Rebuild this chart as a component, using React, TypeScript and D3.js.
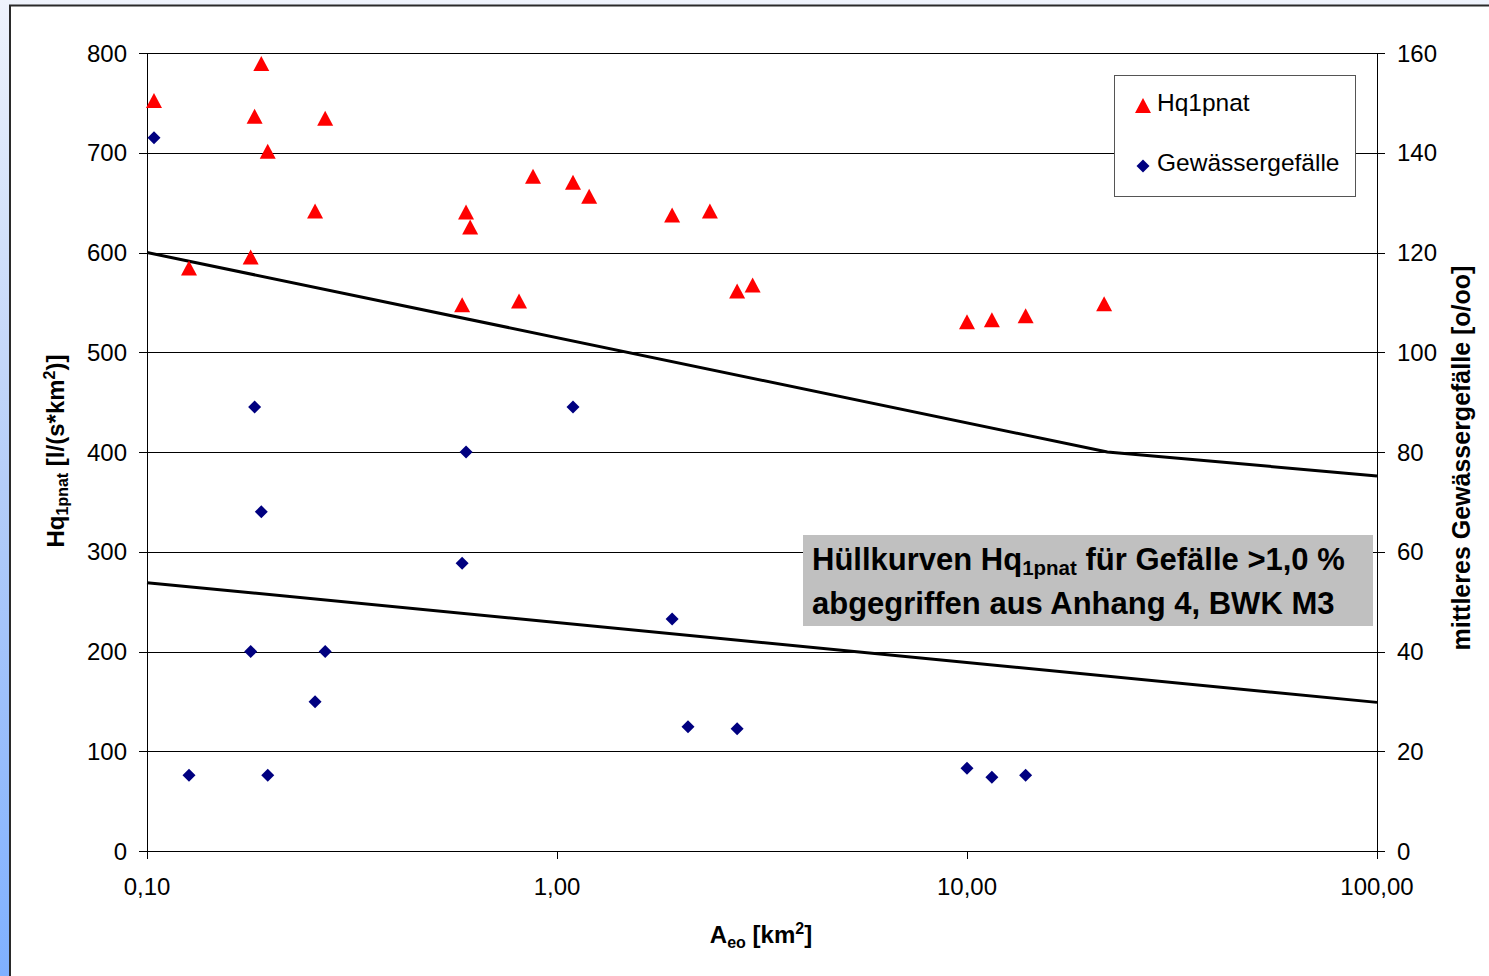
import React from 'react';
import * as d3 from 'd3';

// ---- data ----
const hqArea = [0.104, 0.19, 0.183, 0.272, 0.197, 0.257, 0.1266, 0.179, 0.6, 0.614, 0.587, 0.808, 0.874, 1.094, 1.198, 1.909, 2.36, 2.75, 3.0, 10.0, 11.5, 13.9, 21.6];
const hqValues = [752, 789, 736, 734, 701, 641, 584, 595, 640, 625, 547, 551, 676, 670, 656, 637, 641, 561, 567, 530, 532, 536, 548];
const slopeArea = [0.104, 0.183, 0.19, 0.6, 1.094, 0.587, 1.909, 0.179, 0.272, 0.257, 0.1266, 0.197, 2.087, 2.75, 10.0, 11.5, 13.9];
const slopeValues = [143, 89, 68, 80, 89, 57.7, 46.5, 40, 40, 29.9, 15.2, 15.2, 24.9, 24.5, 16.6, 14.8, 15.2];
const upperCurveArea = [0.1, 22, 100];
const upperCurveHq = [600, 400, 376];
const lowerCurveArea = [0.1, 100];
const lowerCurveHq = [269, 149];
const leftTicks = [0, 100, 200, 300, 400, 500, 600, 700, 800];
const rightTicks = [0, 20, 40, 60, 80, 100, 120, 140, 160];
const xTicks = [0.1, 1, 10, 100];
const xTickLabels = ['0,10', '1,00', '10,00', '100,00'];

const FONT = '"Liberation Sans", Arial, sans-serif';

export default function App() {
  const W = 1489, H = 976;
  const x = d3.scaleLog().domain([0.1, 100]).range([147, 1377]);
  const y = d3.scaleLinear().domain([0, 800]).range([851, 53]);
  const y2 = d3.scaleLinear().domain([0, 160]).range([851, 53]);
  const line = d3.line<[number, number]>().x(d => x(d[0])).y(d => y(d[1]));
  const upper = line(upperCurveArea.map((a, i) => [a, upperCurveHq[i]] as [number, number])) || '';
  const lower = line(lowerCurveArea.map((a, i) => [a, lowerCurveHq[i]] as [number, number])) || '';
  const tri = 'M0,-8L8,7L-8,7Z';
  const dia = 'M0,-6.5L6.5,0L0,6.5L-6.5,0Z';
  const L = x.range()[0], R = x.range()[1];
  const B = y(0);

  return (
    <div style={{ position: 'absolute', left: 0, top: 0 }}>
      <svg width={W} height={H} style={{ display: 'block' }} fontFamily={FONT}>
        <defs>
          <linearGradient id="bg" x1="0" y1="0" x2="0" y2="1">
            <stop offset="0" stopColor="#eff3fc" />
            <stop offset="0.5" stopColor="#b4cdf8" />
            <stop offset="1" stopColor="#7fb0ff" />
          </linearGradient>
        </defs>
        <rect x={0} y={0} width={W} height={H} fill="url(#bg)" />
        <rect x={10} y={5.5} width={W + 20} height={H + 20} fill="#fff" stroke="#2a2a2a" strokeWidth={2} />

        {/* gridlines */}
        <g shapeRendering="crispEdges">
          {leftTicks.filter(t => t > 0).map(t => (
            <line key={t} x1={L} x2={R} y1={Math.round(y(t)) + 0.5} y2={Math.round(y(t)) + 0.5} stroke="#000" strokeWidth={1} />
          ))}
        </g>

        {/* axes */}
        <g shapeRendering="crispEdges" stroke="#000" strokeWidth={1}>
          <line x1={L + 0.5} x2={L + 0.5} y1={y(800)} y2={B + 8} />
          <line x1={R + 0.5} x2={R + 0.5} y1={y(800)} y2={B + 8} />
          <line x1={L - 8} x2={R + 8} y1={Math.round(B) + 0.5} y2={Math.round(B) + 0.5} />
          {leftTicks.map(t => (
            <line key={'l' + t} x1={L - 8} x2={L} y1={Math.round(y(t)) + 0.5} y2={Math.round(y(t)) + 0.5} />
          ))}
          {rightTicks.map(t => (
            <line key={'r' + t} x1={R} x2={R + 8} y1={Math.round(y2(t)) + 0.5} y2={Math.round(y2(t)) + 0.5} />
          ))}
          {xTicks.map(t => (
            <line key={'x' + t} x1={Math.round(x(t)) + 0.5} x2={Math.round(x(t)) + 0.5} y1={B} y2={B + 8} />
          ))}
        </g>

        {/* tick labels */}
        <g fontSize={24} fill="#000">
          {leftTicks.map(t => (
            <text key={'lt' + t} x={L - 20} y={y(t) + 8.5} textAnchor="end">{t}</text>
          ))}
          {rightTicks.map(t => (
            <text key={'rt' + t} x={R + 20} y={y2(t) + 8.5} textAnchor="start">{t}</text>
          ))}
          {xTicks.map((t, i) => (
            <text key={'xt' + t} x={x(t)} y={B + 44} textAnchor="middle">{xTickLabels[i]}</text>
          ))}
        </g>

        {/* envelope curves */}
        <path d={upper} fill="none" stroke="#000" strokeWidth={3} />
        <path d={lower} fill="none" stroke="#000" strokeWidth={3} />

        {/* markers */}
        {slopeArea.map((a, i) => (
          <path key={'d' + i} d={dia} transform={`translate(${x(a)},${y2(slopeValues[i])})`} fill="#000080" />
        ))}
        {hqArea.map((a, i) => (
          <path key={'t' + i} d={tri} transform={`translate(${x(a)},${y(hqValues[i])})`} fill="#ff0000" />
        ))}

        {/* legend */}
        <rect x={1114.5} y={75.5} width={241} height={121} fill="#fff" stroke="#555" strokeWidth={1} />
        <path d={tri} transform="translate(1143,106)" fill="#ff0000" />
        <text x={1157} y={111} fontSize={24.5}>Hq1pnat</text>
        <path d={dia} transform="translate(1143,166)" fill="#000080" />
        <text x={1157} y={171} fontSize={24.5}>Gewässergefälle</text>

        {/* annotation */}
        <rect x={803} y={535} width={570} height={91} fill="#c0c0c0" />
        <text x={812} y={570} fontSize={31} fontWeight="bold">
          Hüllkurven Hq<tspan fontSize={20.5} dy={5}>1pnat</tspan><tspan dy={-5}> für Gefälle &gt;1,0 %</tspan>
        </text>
        <text x={812} y={614} fontSize={31} fontWeight="bold">abgegriffen aus Anhang 4, BWK M3</text>

        {/* axis titles */}
        <text transform="translate(64,451) rotate(-90)" textAnchor="middle" fontSize={24} fontWeight="bold">
          Hq<tspan fontSize={16} dy={4}>1pnat</tspan><tspan dy={-4}> [l/(s*km</tspan><tspan fontSize={16} dy={-9}>2</tspan><tspan dy={9}>)]</tspan>
        </text>
        <text transform="translate(1470,458) rotate(-90)" textAnchor="middle" fontSize={25} fontWeight="bold">
          mittleres Gewässergefälle [o/oo]
        </text>
        <text x={761} y={943} textAnchor="middle" fontSize={24} fontWeight="bold">
          A<tspan fontSize={16} dy={5}>eo</tspan><tspan dy={-5}> [km</tspan><tspan fontSize={16} dy={-9}>2</tspan><tspan dy={9}>]</tspan>
        </text>
      </svg>
    </div>
  );
}
